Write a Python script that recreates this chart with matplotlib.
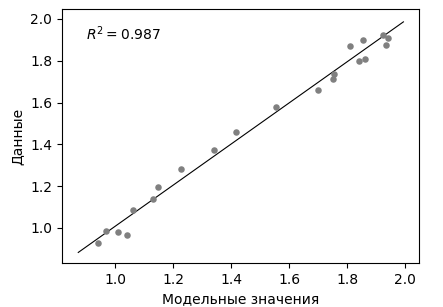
import matplotlib
matplotlib.use("Agg")
import matplotlib.pyplot as plt

model = [0.940, 0.969, 1.011, 1.041, 1.061, 1.129, 1.147, 1.228, 1.340, 1.416,
         1.553, 1.699, 1.750, 1.756, 1.811, 1.842, 1.855, 1.862, 1.923, 1.933, 1.942]
data = [0.930, 0.987, 0.981, 0.968, 1.086, 1.139, 1.195, 1.281, 1.373, 1.460,
        1.579, 1.662, 1.711, 1.735, 1.871, 1.799, 1.898, 1.808, 1.922, 1.874, 1.907]

# fitted line endpoints
fit_x = [0.873, 1.994]
fit_y = [0.883, 1.986]

r2 = 0.987

fig = plt.figure(figsize=(4.43, 3.07), dpi=100)
ax = fig.add_axes([0.140, 0.143, 0.806, 0.828])

ax.plot(fit_x, fit_y, color="black", lw=0.8)
ax.scatter(model, data, s=22, color="gray", zorder=3, linewidths=0)

ax.text(0.067, 0.878, f"$R^2 = {r2}$", transform=ax.transAxes,
        fontsize=10, va="baseline")

ax.set_xlim(0.817, 2.048)
ax.set_ylim(0.832, 2.048)
ax.set_xticks([1.0, 1.2, 1.4, 1.6, 1.8, 2.0])
ax.set_yticks([1.0, 1.2, 1.4, 1.6, 1.8, 2.0])
ax.set_xlabel("Модельные значения")
ax.set_ylabel("Данные")

fig.savefig("out.png", dpi=100)
